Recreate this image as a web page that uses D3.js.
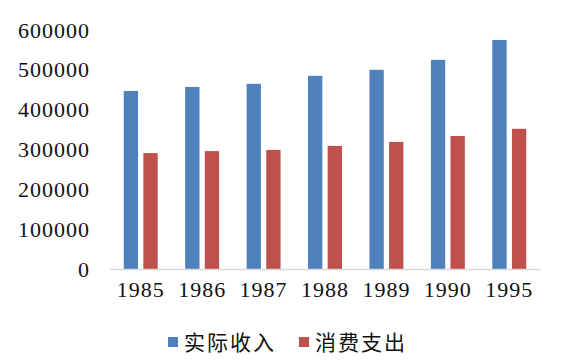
<!DOCTYPE html>
<html><head><meta charset="utf-8">
<script src="https://cdn.jsdelivr.net/npm/d3@7"></script>
<style>body{margin:0;background:#fff}</style>
</head><body>
<svg id="c" width="563" height="360"></svg>
<script>
const categories = ["1985","1986","1987","1988","1989","1990","1995"];
const seriesNames = ["实际收入","消费支出"];
const income = [447000,457000,465000,485000,500000,525000,575000];
const spending = [291000,296000,299000,309000,319000,334000,352000];
const yTicks = [0,100000,200000,300000,400000,500000,600000];
const colors = ["#4f81bd","#c0504d"];

const svg = d3.select("#c");
const m = {left:110, right:23, top:30, bottom:91};
const W = 563, H = 360;
const x = d3.scaleBand().domain(categories).range([m.left, W-m.right]).paddingInner(0).paddingOuter(0);
const y = d3.scaleLinear().domain([0,600000]).range([H-m.bottom, m.top]);
const inner = d3.scaleBand().domain([0,1]).range([0, x.bandwidth()]).paddingInner(0.27).paddingOuter(0.7);

const data = [income, spending];
data.forEach((vals, s) => {
  svg.append("g").selectAll("rect").data(vals).join("rect")
    .attr("x", (d,i) => x(categories[i]) + inner(s))
    .attr("width", inner.bandwidth())
    .attr("y", d => y(d))
    .attr("height", d => y(0) - y(d))
    .attr("fill", colors[s]);
});

svg.append("line").attr("x1", m.left).attr("x2", W-m.right+1)
  .attr("y1", y(0)+0.5).attr("y2", y(0)+0.5).attr("stroke","#d9d9d9").attr("stroke-width",1.5);

const yAxis = d3.axisLeft(y).tickValues(yTicks).tickSize(0).tickPadding(20).tickFormat(d3.format("d"));
const gy = svg.append("g").attr("transform",`translate(${m.left},0)`).call(yAxis);
gy.select(".domain").remove();
gy.selectAll("text").attr("font-family","'Liberation Serif', serif").attr("font-size",22)
  .attr("letter-spacing",1).attr("fill","#111");

const xAxis = d3.axisBottom(x).tickSize(0).tickPadding(12);
const gx = svg.append("g").attr("transform",`translate(0,${y(0)})`).call(xAxis);
gx.select(".domain").remove();
gx.selectAll("text").attr("font-family","'Liberation Serif', serif").attr("font-size",22)
  .attr("letter-spacing",1).attr("fill","#111");

const legX = [168, 299];
seriesNames.forEach((n,i) => {
  svg.append("rect").attr("x", legX[i]).attr("y",337).attr("width",10).attr("height",10).attr("fill",colors[i]);
  svg.append("text").attr("x", legX[i]+16).attr("y",350).text(n)
    .attr("font-family","'Noto Sans CJK SC', sans-serif").attr("font-size",21)
    .attr("letter-spacing",2).attr("fill","#111");
});
</script>
</body></html>
